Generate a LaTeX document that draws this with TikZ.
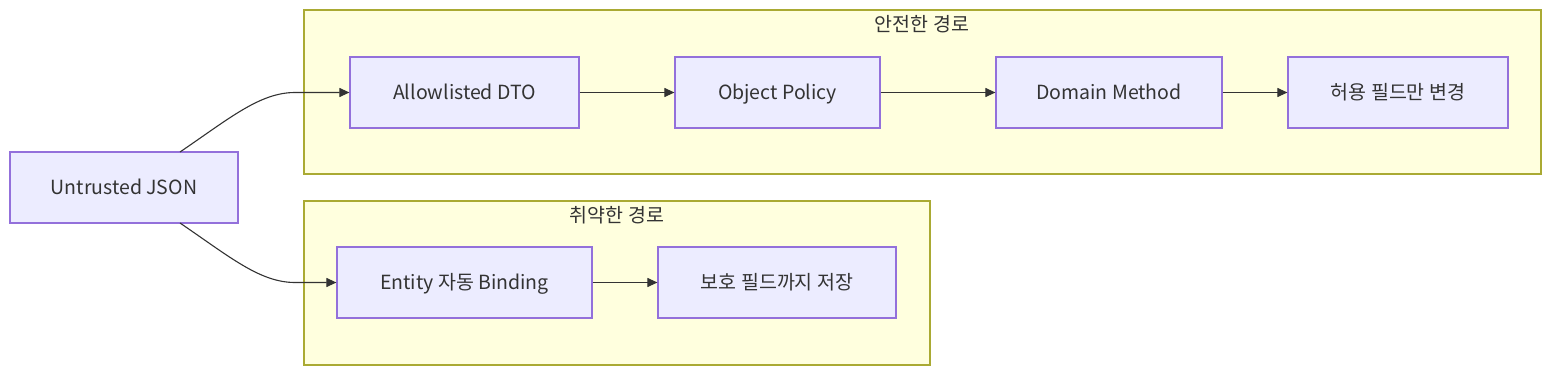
\documentclass[tikz,border=0pt]{standalone}
\usepackage{fontspec}
\setmainfont{Noto Sans CJK KR}
\usetikzlibrary{arrows.meta}
\definecolor{nodefill}{HTML}{ECECFF}
\definecolor{nodeline}{HTML}{9370DB}
\definecolor{clfill}{HTML}{FFFFDE}
\definecolor{clline}{HTML}{AAAA33}
\definecolor{txt}{HTML}{333333}
\begin{document}
\begin{tikzpicture}[x=1pt,y=-1pt,
  box/.style={draw=nodeline,fill=nodefill,line width=1.2pt,text=txt,font=\fontsize{19.5}{23}\selectfont,inner sep=0pt,text height=16pt,text depth=2pt},
  cluster/.style={draw=clline,fill=clfill,line width=1.2pt},
  cltitle/.style={text=txt,font=\fontsize{19.5}{23}\selectfont,text height=16pt,text depth=2pt},
  edge/.style={draw=txt,line width=1.1pt,-{Triangle[length=10pt,width=9pt]}}]
\useasboundingbox (0,0) rectangle (1568,380);
% clusters
\path[cluster] (304,10) rectangle (1541,174);
\node[cltitle] (safeT) at (922,24) {안전한 경로};
\path[cluster] (304,201) rectangle (930,365);
\node[cltitle] (vulnT) at (617,215) {취약한 경로};
% nodes
\node[box,minimum width=228pt,minimum height=71pt] (json) at (124,187.5) {Untrusted JSON};
\node[box,minimum width=229pt,minimum height=71pt] (dto) at (464.5,92.5) {Allowlisted DTO};
\node[box,minimum width=205pt,minimum height=71pt] (pol) at (777.5,92.5) {Object Policy};
\node[box,minimum width=226pt,minimum height=71pt] (dom) at (1109,92.5) {Domain Method};
\node[box,minimum width=220pt,minimum height=71pt] (ok) at (1398,92.5) {허용 필드만 변경};
\node[box,minimum width=255pt,minimum height=71pt] (ent) at (464.5,282.5) {Entity 자동 Binding};
\node[box,minimum width=238pt,minimum height=71pt] (save) at (777,282.5) {보호 필드까지 저장};
% edges
\coordinate (jt) at (180,152);
\coordinate (jb) at (180,223);
\draw[edge] (jt) .. controls (230,118) and (260,92.5) .. (295,92.5) -- (dto.west);
\draw[edge] (jb) .. controls (230,257) and (260,282.5) .. (295,282.5) -- (ent.west);
\draw[edge] (dto) -- (pol);
\draw[edge] (pol) -- (dom);
\draw[edge] (dom) -- (ok);
\draw[edge] (ent) -- (save);
\end{tikzpicture}
\end{document}
